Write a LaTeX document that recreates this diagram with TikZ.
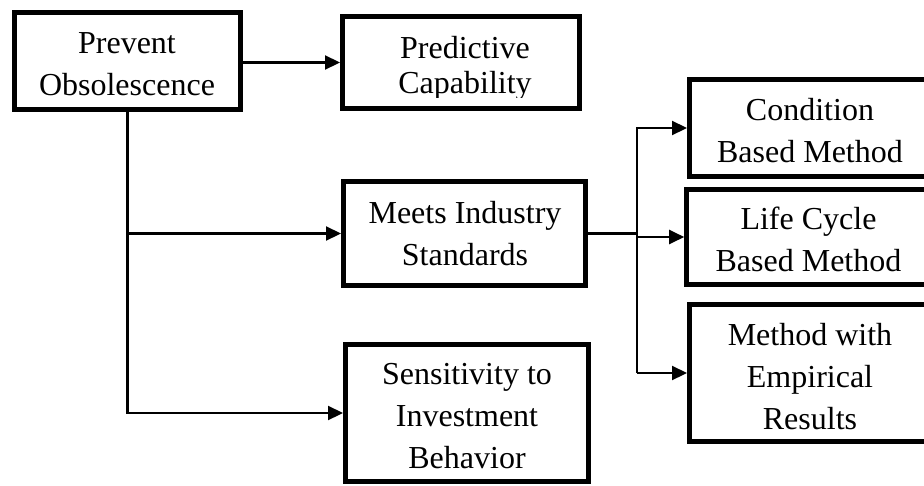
\documentclass[tikz,border=0pt]{standalone}
\usepackage{fontspec}
\setmainfont{Liberation Serif}
\usetikzlibrary{arrows.meta}
\begin{document}
\begin{tikzpicture}[x=1pt,y=-1pt,
  box/.style={draw, line width=5pt, rectangle, inner sep=0pt},
  caption/.style={align=center, inner sep=0pt, font=\fontsize{32}{42}\selectfont},
  wire/.style={line width=2.2pt},
  arr/.style={wire, -{Triangle[length=15pt,width=14pt]}}]
\clip (0,0) rectangle (924,485);

% frames
\node[box, minimum width=226pt, minimum height=97pt]  (prev) at (127.5,61) {};
\node[box, minimum width=237pt, minimum height=92pt]  (pred) at (461,62.5) {};
\node[box, minimum width=242pt, minimum height=104pt] (meet) at (464.5,233.5) {};
\node[box, minimum width=243pt, minimum height=137pt] (sens) at (467,413) {};
\node[box, minimum width=241pt, minimum height=97pt]  (cond) at (810,128) {};
\node[box, minimum width=244pt, minimum height=95pt]  (life) at (808.7,237) {};
\node[box, minimum width=241pt, minimum height=137pt] (meth) at (810,373) {};

% captions
\node[caption] (prevT) at (127,64.5) {Prevent\\Obsolescence};
\begin{scope}
  \clip (345,19) rectangle (577,97);
  \node[caption, font=\fontsize{32}{35}\selectfont] (predT) at (465,68) {Predictive\\Capability};
\end{scope}
\node[caption] (meetT) at (465,234) {Meets Industry\\Standards};
\node[caption] (sensT) at (467,416.5) {Sensitivity to\\Investment\\Behavior};
\node[caption] (condT) at (810,131) {Condition\\Based Method};
\node[caption] (lifeT) at (808.5,239) {Life Cycle\\Based Method};
\begin{scope}
  \clip (692,307) rectangle (928,430);
  \node[caption] (methT) at (810,377) {Method with\\Empirical\\Results};
\end{scope}

% connectors
\draw[arr] (prev.east |- pred.west) -- (pred.west);
\draw[arr] (prev.south) |- (sens.west);
\draw[arr] (prev.south |- meet.west) -- (meet.west);

\coordinate (bus) at (637,233.5);
\draw[wire] (meet.east) -- (bus);
\draw[arr] (bus |- meth.west) |- (cond.west);
\draw[arr] (bus |- life.west) -- (life.west);
\draw[arr] (bus |- meth.west) -- (meth.west);
\end{tikzpicture}
\end{document}
